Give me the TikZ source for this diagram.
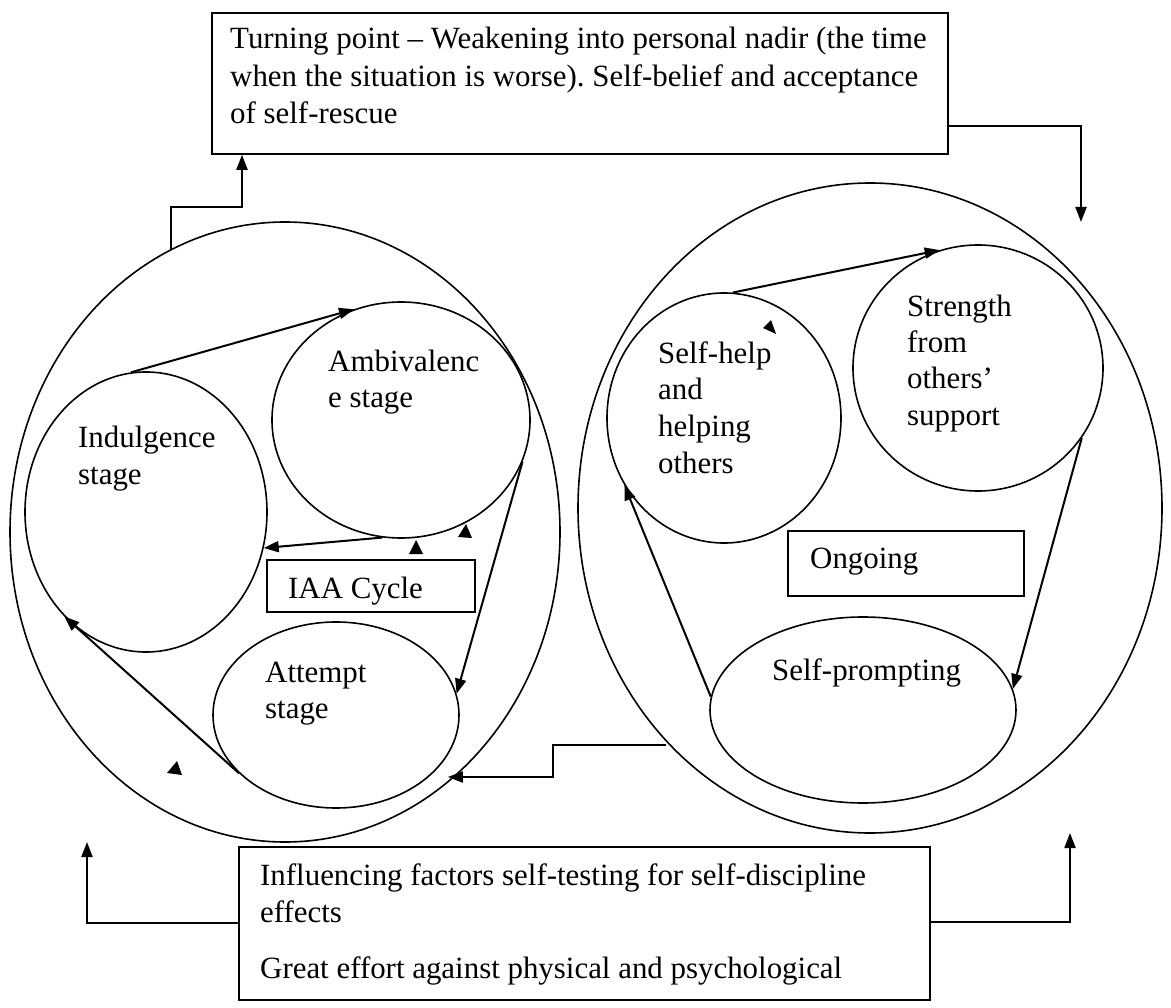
\documentclass[tikz,border=0pt]{standalone}
\usepackage{fontspec}
\setmainfont{Liberation Serif}
\usetikzlibrary{arrows.meta,shapes.geometric,calc}
\frenchspacing
\begin{document}
\begin{tikzpicture}[x=1pt,y=-1pt,
  oval/.style={ellipse, draw, line width=1.6pt, inner sep=0pt},
  box/.style={rectangle, draw, line width=1.6pt, inner sep=0pt},
  arr/.style={line width=2pt, -{Triangle[length=15pt,width=11pt]}},
  lbl/.style={anchor=base west, inner sep=0pt, font=\fontsize{30.9}{37}\selectfont},
  stray/.style={fill=black}]
\useasboundingbox[fill=white] (0,0) rectangle (1171,1008);

% boxes
\node[box, minimum width=736, minimum height=141] (top) at (580,83.5) {};
\node[box, minimum width=691, minimum height=153] (bot) at (584.5,923.5) {};

% big ellipses
\node[oval, minimum width=550, minimum height=620] (bigL) at (285,532) {};
\node[oval, minimum width=584, minimum height=650] (bigR) at (870,508) {};

% inner shapes left
\node[oval, minimum width=242, minimum height=280] (ind) at (146,512) {};
\node[oval, minimum width=258, minimum height=236] (amb) at (401,420) {};
\node[oval, minimum width=246, minimum height=186] (att) at (336,715) {};
\node[box, minimum width=208, minimum height=52] (iaa) at (371,586) {};

% inner shapes right
\node[oval, minimum width=234, minimum height=250] (help) at (724,418) {};
\node[oval, minimum width=250, minimum height=246] (str) at (978,368) {};
\node[oval, minimum width=306, minimum height=186] (prm) at (863,710) {};
\node[box, minimum width=236, minimum height=65] (ong) at (906,563.5) {};

% texts
\node[lbl] (tA) at (230,49) {Turning point – Weakening into personal nadir (the time};
\node[lbl] (tB) at (230,86.5) {when the situation is worse). Self-belief and acceptance};
\node[lbl] (tC) at (230,124) {of self-rescue};

\node[lbl] (bA) at (260,885) {Influencing factors self-testing for self-discipline};
\node[lbl] (bB) at (260,922) {effects};
\node[lbl] (bC) at (260,978) {Great effort against physical and psychological};

\node[lbl] (iA) at (78,447) {Indulgence};
\node[lbl] (iB) at (78,485) {stage};
\node[lbl] (aA) at (328,372) {Ambivalenc};
\node[lbl] (aB) at (328,408) {e stage};
\node[lbl] (pA) at (265,682) {Attempt};
\node[lbl] (pB) at (265,718) {stage};
\node[lbl] (cA) at (288,598) {IAA Cycle};

\node[lbl] (hA) at (658,364) {Self-help};
\node[lbl] (hB) at (658,400) {and};
\node[lbl] (hC) at (658,437) {helping};
\node[lbl] (hD) at (658,473) {others};
\node[lbl] (sA) at (907,317) {Strength};
\node[lbl] (sB) at (907,353) {from};
\node[lbl] (sC) at (907,389) {others'};
\node[lbl] (sD) at (907,425) {support};
\node[lbl] (oA) at (810,568) {Ongoing};
\node[lbl] (rA) at (772,680) {Self-prompting};

% cycle arrows left
\draw[arr] (ind.96) -- (amb.113);
\draw[arr] (amb.261) -- (ind.-17);
\draw[arr] (amb.341) -- (att.10);
\draw[arr] (att.211) -- (ind.232);

% cycle arrows right
\draw[arr] (help.86) -- (str.108);
\draw[arr] (str.326) -- (prm.8);
\draw[arr] (prm.175) -- (help.214);

% outer connectors
\coordinate (kL) at (242,207);
\draw[arr] (bigL.112) |- (kL) -- (kL |- top.south);
\coordinate (kR) at (1081,126);
\coordinate (kRt) at (1081,222);
\draw[arr] (kR -| top.east) -- (kR) -- (kRt);
\coordinate (kBL) at (87,923);
\coordinate (kBLt) at (87,842);
\draw[arr] (kBL -| bot.west) -- (kBL) -- (kBLt);
\coordinate (kBR) at (1070,922);
\coordinate (kBRt) at (1070,833);
\draw[arr] (kBR -| bot.east) -- (kBR) -- (kBRt);
\coordinate (m1) at (553,745);
\coordinate (m2) at (553,777);
\draw[arr] (bigR.229 |- m1) -- (m1) -- (m2) -- (bigL.-57 |- m2);

% stray arrowheads
\fill[stray] (409,554) -- (423,554) -- (416,540) -- cycle;
\fill[stray] (458,537) -- (472,538) -- (466,524) -- cycle;
\fill[stray] (167,773) -- (182,775) -- (177,761) -- cycle;
\fill[stray] (763,328) -- (776,334) -- (771,320) -- cycle;
\end{tikzpicture}
\end{document}
